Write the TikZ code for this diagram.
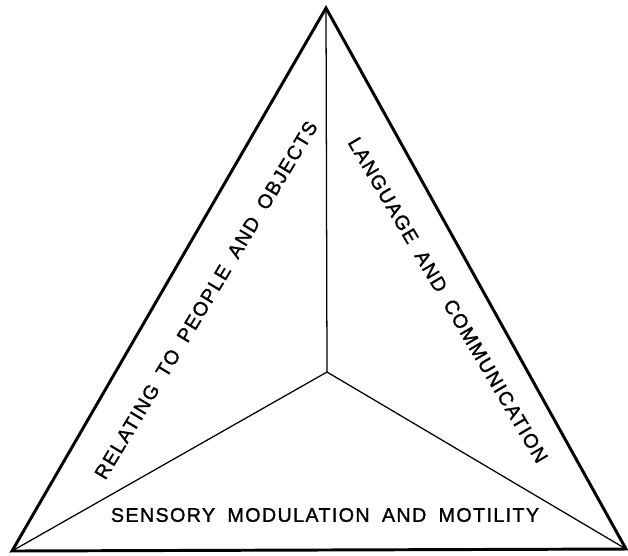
\documentclass[tikz,border=0pt]{standalone}
\usepackage{fontspec}
\setmainfont{Liberation Sans}
\newfontfamily\labelfont[LetterSpace=7, WordSpace=1.8, FakeBold=1.3]{Liberation Sans}
\begin{document}
\begin{tikzpicture}[x=0.025cm, y=-0.025cm,
    font=\labelfont\fontsize{14}{16}\selectfont,
    edge/.style={line width=2.1pt, line join=miter},
    spoke/.style={line width=0.9pt},
    area/.style={inner sep=0pt}]
  \useasboundingbox (0,0) rectangle (628,555);
  % corners and centre
  \coordinate (top) at (326,8);
  \coordinate (left) at (12,551);
  \coordinate (right) at (626,549);
  \coordinate (mid) at (327,372);
  % triangle
  \draw[edge] (top) -- (left) -- (right) -- cycle;
  \foreach \c in {top,left,right}
    \draw[spoke] (mid) -- (\c);
  % areas
  \node[area, rotate=59] (relating) at (206,300) {RELATING TO PEOPLE AND OBJECTS};
  \node[area, rotate=-59.5] (language) at (448,300) {LANGUAGE AND COMMUNICATION};
  \node[area] (sensory) at (325,515) {SENSORY MODULATION AND MOTILITY};
\end{tikzpicture}
\end{document}
